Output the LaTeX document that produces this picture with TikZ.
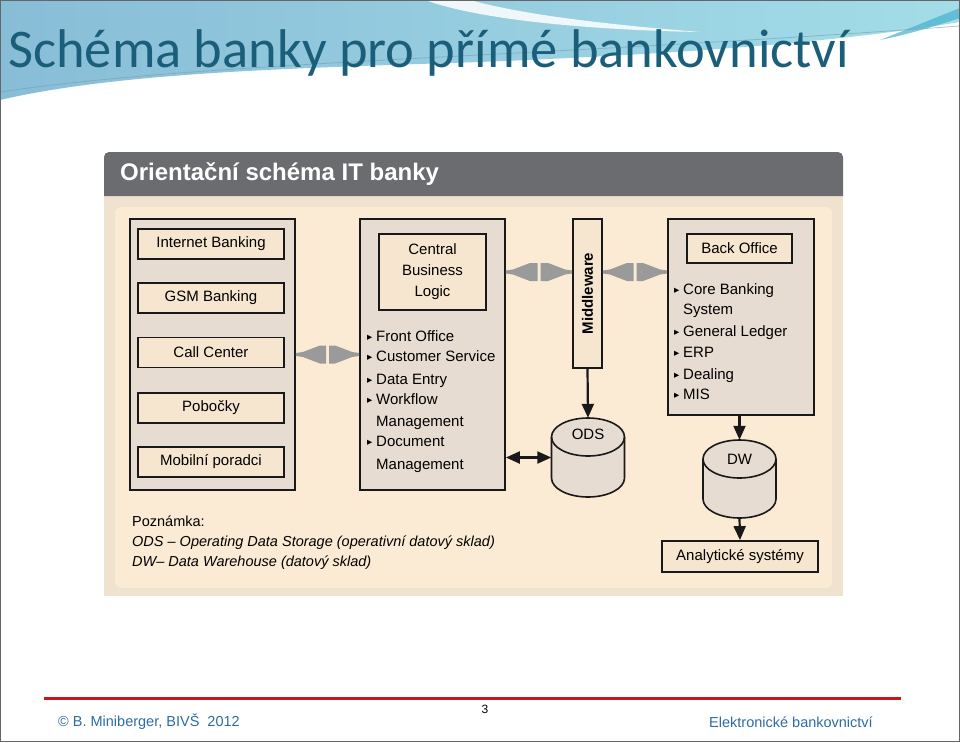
\documentclass[tikz,border=0pt]{standalone}
\usepackage{fontspec}
\setmainfont{Liberation Sans}
\newfontfamily\titlefont{Carlito}
\newfontfamily\dejavu{DejaVu Sans}
\usetikzlibrary{arrows.meta,calc}
\definecolor{titleteal}{HTML}{1B5E7A}
\definecolor{swblue}{HTML}{88BDD7}
\definecolor{swcyan}{HTML}{A3DDE8}
\definecolor{swdark}{HTML}{45B2CC}
\definecolor{hdrgray}{HTML}{6B6C6F}
\definecolor{panelrim}{HTML}{EFE2CE}
\definecolor{panelin}{HTML}{FCEBD4}
\definecolor{boxfill}{HTML}{E7DCD1}
\definecolor{innerfill}{HTML}{F7E6CF}
\definecolor{fatgray}{HTML}{9A9A9A}
\definecolor{footred}{HTML}{C8161E}
\definecolor{footblue}{HTML}{2E6CA4}
\newcommand\dfont{\fontsize{15}{18}\selectfont}
\newcommand\bul{\makebox[9pt][l]{\dejavu\fontsize{10.5}{10}\selectfont\raisebox{0.3pt}{▸}}}
\newcommand\ind{\hspace*{9pt}}
\newcommand\fatarr[2]{%
  \fill[fatgray] let \p1=#1, \p2=#2, \p3=($#1!0.5!#2$) in
    (\x1,\y1+1.5pt) -- (\x1+7pt,\y1+2.5pt) -- (\x1+24pt,\y1+9pt) -- (\x3-1.5pt,\y1+9pt)
    -- (\x3-1.5pt,\y1-9pt) -- (\x1+24pt,\y1-9pt) -- (\x1+7pt,\y1-2.5pt) -- (\x1,\y1-1.5pt) -- cycle
    (\x2,\y1+1.5pt) -- (\x2-7pt,\y1+2.5pt) -- (\x2-24pt,\y1+9pt) -- (\x3+1.5pt,\y1+9pt)
    -- (\x3+1.5pt,\y1-9pt) -- (\x2-24pt,\y1-9pt) -- (\x2-7pt,\y1-2.5pt) -- (\x2,\y1-1.5pt) -- cycle;}
\begin{document}
\begin{tikzpicture}[x=1pt,y=-1pt,
  bigbox/.style={draw=black!90, line width=1.8pt, fill=boxfill, inner sep=0pt},
  smallbox/.style={draw=black!90, line width=1.8pt, fill=innerfill, inner sep=0pt,
    minimum width=146pt, minimum height=30pt, font=\dfont},
  li/.style={anchor=west, inner sep=0pt, font=\dfont, text height=11pt, text depth=3pt},
  note/.style={anchor=west, inner sep=0pt, font=\fontsize{14.5}{17}\selectfont},
  cyl/.style={draw=black!90, line width=1.6pt, fill=boxfill},
  tip/.tip={Triangle[length=14pt,width=12pt]},
  arr/.style={line width=2.2pt, draw=black!90, -tip},
  darr/.style={line width=2.2pt, draw=black!90, tip-tip},
  ]
\useasboundingbox (0,0) rectangle (960,742);
\fill[white] (0,0) rectangle (960,742);
% top swoosh
\shade[left color=swblue, right color=swcyan]
  (0,0) -- (960,0) -- (960,22) .. controls (820,45) and (650,55) .. (480,62)
  .. controls (300,68) and (120,72) .. (0,100) -- cycle;
\fill[white, opacity=0.85] (425,0) -- (470,0) .. controls (520,14) and (600,24) .. (700,32)
  .. controls (590,30) and (480,20) .. (425,0) -- cycle;
\fill[swdark, opacity=0.7] (880,40) .. controls (910,28) and (935,18) .. (960,8) -- (960,18)
  .. controls (935,26) and (910,34) .. (880,40) -- cycle;
\draw[titleteal!60, line width=0.8pt, opacity=0.6] (0,92) .. controls (200,62) and (520,58) .. (960,26);
% title
\node[anchor=base west, inner sep=0pt, text=titleteal, font=\titlefont\fontsize{54.5}{60}\selectfont]
  (title) at (8,67) {Schéma banky pro přímé bankovnictví};
% diagram frame
\fill[panelrim] (104,196) rectangle (843,596);
\fill[panelin, rounded corners=6pt] (115,207) rectangle (832,588);
\fill[hdrgray] (104,196) [rounded corners=5pt]-- (104,152) -- (843,152) [sharp corners]-- (843,196) -- cycle;
\node[anchor=west, inner sep=0pt, text=white, font=\bfseries\fontsize{24}{28}\selectfont]
  (hdrt) at (120,174) {Orientační schéma IT banky};
% left column
\node[bigbox, minimum width=165pt, minimum height=271pt] (lb) at (212.5,354.5) {};
\node[smallbox] (ib) at (211,244) {Internet Banking};
\node[smallbox] (gsm) at (211,298) {GSM Banking};
\node[smallbox] (cc) at (211,352.5) {Call Center};
\node[smallbox] (pob) at (211,408) {Pobočky};
\node[smallbox] (mp) at (211,462) {Mobilní poradci};
% middle column
\node[bigbox, minimum width=145pt, minimum height=271pt] (mb) at (432.5,354.5) {};
\node[smallbox, minimum width=107pt, minimum height=76pt, align=center,
  font=\fontsize{15}{21}\selectfont] (cbl) at (432.5,272) {Central\\Business\\Logic};
\node[li] (m1) at (367,337) {\bul Front Office};
\node[li] (m2) at (367,357) {\bul Customer Service};
\node[li] (m3) at (367,380) {\bul Data Entry};
\node[li] (m4) at (367,400) {\bul Workflow};
\node[li] (m5) at (367,422) {\ind Management};
\node[li] (m6) at (367,442) {\bul Document};
\node[li] (m7) at (367,465) {\ind Management};
% middleware
\node[bigbox, fill=innerfill, minimum width=29pt, minimum height=149pt] (mw) at (587.5,293.5) {};
\node[rotate=90, inner sep=0pt, font=\bfseries\dfont] (mwt) at (mw.center) {Middleware};
% right column
\node[bigbox, minimum width=146pt, minimum height=196pt] (rb) at (741,317) {};
\node[smallbox, minimum width=105pt, minimum height=29pt] (bo) at (739.5,248.5) {Back Office};
\node[li] (r1) at (674,290) {\bul Core Banking};
\node[li] (r2) at (674,310) {\ind System};
\node[li] (r3) at (674,332) {\bul General Ledger};
\node[li] (r4) at (674,353) {\bul ERP};
\node[li] (r5) at (674,375) {\bul Dealing};
\node[li] (r6) at (674,395) {\bul MIS};
% ODS cylinder
\node[minimum width=73pt, minimum height=79pt, inner sep=0pt] (ods) at (588,457.5) {};
\draw[cyl] (551.5,437) -- (551.5,478) arc (180:360:36.5pt and 19pt) -- (624.5,437) arc (0:180:36.5pt and 19pt) -- cycle;
\draw[line width=1.6pt, black!90] (551.5,437) arc (180:360:36.5pt and 19pt);
\node[font=\dfont, inner sep=0pt] (odst) at (588,434) {ODS};
% DW cylinder
\node[minimum width=73pt, minimum height=78pt, inner sep=0pt] (dw) at (739.5,479) {};
\draw[cyl] (703,459) -- (703,499) arc (180:360:36.5pt and 19pt) -- (776,459) arc (0:180:36.5pt and 19pt) -- cycle;
\draw[line width=1.6pt, black!90] (703,459) arc (180:360:36.5pt and 19pt);
\node[font=\dfont, inner sep=0pt] (dwt) at (739.5,459) {DW};
% analytics
\node[smallbox, minimum width=156pt, minimum height=31pt] (an) at (740,556.5) {Analytické systémy};
% notes
\node[note] (n1) at (132,521) {Poznámka:};
\node[note, font=\itshape\fontsize{14.5}{17}\selectfont] (n2) at (132,543) {ODS – Operating Data Storage (operativní datový sklad)};
\node[note, font=\itshape\fontsize{14.5}{17}\selectfont] (n3) at (132,563) {DW– Data Warehouse (datový sklad)};
% connectors
\fatarr{(lb.east)}{(mb.west)}
\fatarr{(cbl.east -| mb.east)}{(cbl.east -| mw.west)}
\fatarr{(cbl.east -| mw.east)}{(cbl.east -| rb.west)}
\draw[arr] (mw.south) -- (ods.north);
\draw[darr] (ods.west -| mb.east) -- (ods.west);
\draw[arr] (rb.south -| dw.north) -- (dw.north);
\draw[arr] (dw.south) -- (an.north);
% footer
\draw[footred, line width=3pt] (44,698) -- (901,698);
\node[inner sep=0pt, font=\fontsize{12}{14}\selectfont] (pg) at (485,709) {3};
\node[anchor=west, inner sep=0pt, text=footblue, font=\fontsize{14.5}{17}\selectfont] (fl) at (58,722) {© B. Miniberger, BIVŠ\ \ 2012};
\node[anchor=east, inner sep=0pt, text=footblue, font=\fontsize{14.5}{17}\selectfont] (fr) at (873,722) {Elektronické bankovnictví};
\draw[black!60, line width=1pt] (0.5,0.5) rectangle (959.5,741.5);
\end{tikzpicture}
\end{document}
